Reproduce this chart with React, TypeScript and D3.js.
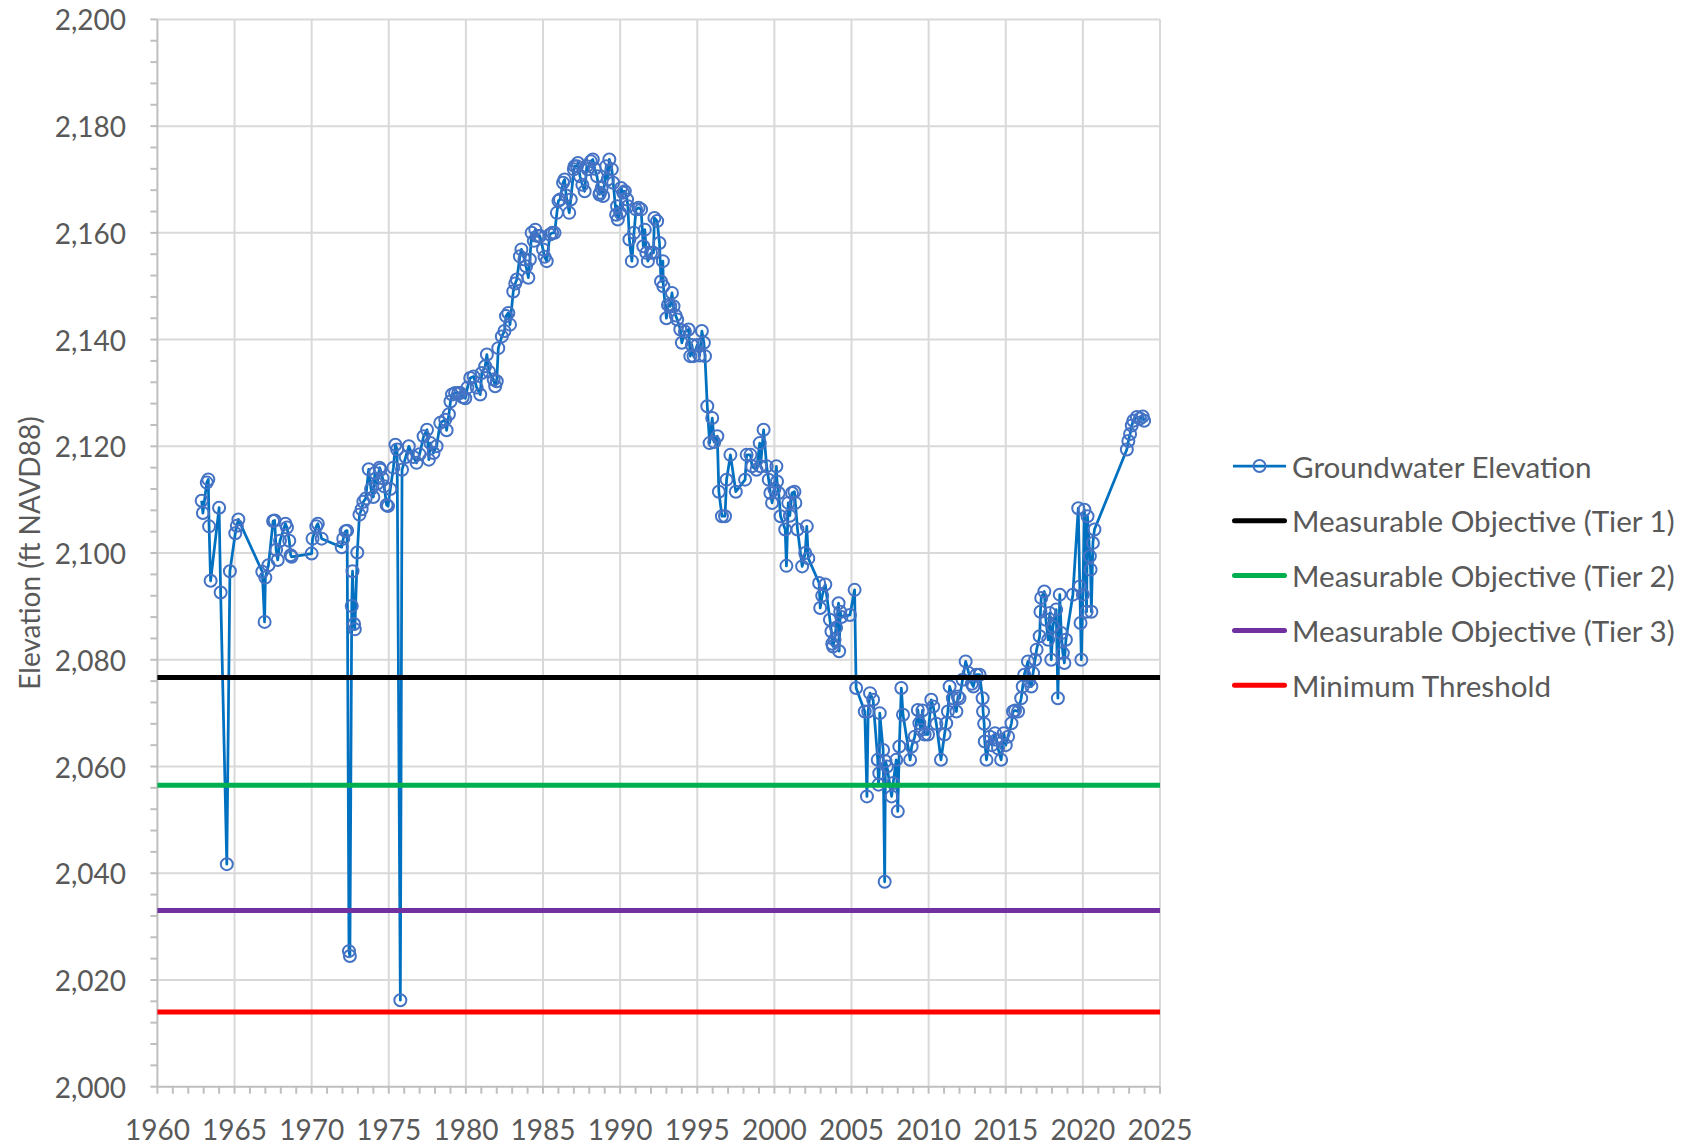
import React from "react";
import * as d3 from "d3";

// ---- Data ----
const years: number[] = [
  1962.87, 1962.95, 1963.2, 1963.3, 1963.35, 1963.45, 1964.0, 1964.1, 1964.5, 1964.7,
  1965.05, 1965.15, 1965.25, 1966.8, 1966.95, 1967.0, 1967.2, 1967.5, 1967.6, 1967.7,
  1967.8, 1967.95, 1968.3, 1968.4, 1968.55, 1968.64, 1968.7, 1970.0, 1970.06, 1970.3,
  1970.4, 1970.65, 1971.95, 1972.05, 1972.2, 1972.3, 1972.42, 1972.48, 1972.6, 1972.65,
  1972.75, 1972.8, 1972.96, 1973.1, 1973.24, 1973.35, 1973.5, 1973.7, 1973.85, 1974.0,
  1974.1, 1974.25, 1974.4, 1974.46, 1974.6, 1974.7, 1974.86, 1974.95, 1975.1, 1975.3,
  1975.43, 1975.54, 1975.75, 1975.86, 1976.1, 1976.3, 1976.6, 1976.8, 1977.0, 1977.26,
  1977.48, 1977.6, 1977.7, 1977.9, 1978.1, 1978.34, 1978.66, 1978.75, 1978.9, 1979.0,
  1979.1, 1979.3, 1979.5, 1979.63, 1979.8, 1979.96, 1980.1, 1980.28, 1980.5, 1980.7,
  1980.93, 1981.03, 1981.25, 1981.36, 1981.5, 1981.8, 1981.9, 1982.0, 1982.1, 1982.33,
  1982.5, 1982.6, 1982.75, 1982.86, 1983.07, 1983.2, 1983.3, 1983.5, 1983.6, 1983.8,
  1983.9, 1984.05, 1984.15, 1984.26, 1984.4, 1984.5, 1984.65, 1984.8, 1985.0, 1985.1,
  1985.24, 1985.45, 1985.6, 1985.75, 1985.9, 1986.0, 1986.1, 1986.3, 1986.4, 1986.5,
  1986.7, 1986.8, 1987.0, 1987.05, 1987.2, 1987.26, 1987.4, 1987.55, 1987.7, 1987.84,
  1987.9, 1988.1, 1988.23, 1988.35, 1988.5, 1988.66, 1988.7, 1988.8, 1988.9, 1989.1,
  1989.2, 1989.3, 1989.46, 1989.55, 1989.74, 1989.8, 1989.85, 1990.0, 1990.06, 1990.2,
  1990.3, 1990.45, 1990.5, 1990.6, 1990.76, 1990.9, 1991.03, 1991.2, 1991.36, 1991.5,
  1991.6, 1991.7, 1991.8, 1992.0, 1992.16, 1992.22, 1992.4, 1992.55, 1992.65, 1992.77,
  1992.8, 1993.0, 1993.1, 1993.25, 1993.36, 1993.46, 1993.6, 1993.7, 1993.9, 1994.0,
  1994.2, 1994.44, 1994.55, 1994.65, 1994.76, 1995.0, 1995.15, 1995.3, 1995.43, 1995.5,
  1995.65, 1995.8, 1995.97, 1996.1, 1996.3, 1996.4, 1996.6, 1996.8, 1996.9, 1997.15,
  1997.5, 1998.1, 1998.2, 1998.45, 1998.55, 1998.84, 1999.05, 1999.1, 1999.3, 1999.5,
  1999.63, 1999.74, 1999.85, 2000.0, 2000.13, 2000.17, 2000.28, 2000.4, 2000.7, 2000.78,
  2000.9, 2001.0, 2001.14, 2001.3, 2001.36, 2001.5, 2001.8, 2002.0, 2002.1, 2002.2,
  2002.9, 2002.97, 2003.1, 2003.3, 2003.6, 2003.7, 2003.75, 2003.8, 2003.9, 2004.0,
  2004.16, 2004.2, 2004.27, 2004.35, 2004.9, 2005.2, 2005.3, 2005.86, 2006.0, 2006.08,
  2006.2, 2006.4, 2006.7, 2006.75, 2006.8, 2006.83, 2007.05, 2007.15, 2007.2, 2007.3,
  2007.6, 2007.7, 2007.9, 2008.0, 2008.1, 2008.23, 2008.34, 2008.8, 2008.9, 2009.1,
  2009.3, 2009.4, 2009.5, 2009.6, 2009.74, 2009.96, 2010.17, 2010.3, 2010.5, 2010.8,
  2011.03, 2011.14, 2011.25, 2011.36, 2011.57, 2011.8, 2011.9, 2012.0, 2012.2, 2012.4,
  2012.6, 2012.8, 2012.9, 2013.1, 2013.3, 2013.5, 2013.53, 2013.6, 2013.64, 2013.75,
  2013.97, 2014.1, 2014.3, 2014.4, 2014.5, 2014.7, 2014.87, 2015.0, 2015.15, 2015.37,
  2015.47, 2015.6, 2015.8, 2016.0, 2016.1, 2016.2, 2016.44, 2016.5, 2016.66, 2016.77,
  2016.9, 2017.0, 2017.2, 2017.25, 2017.3, 2017.5, 2017.6, 2017.75, 2017.85, 2017.95,
  2018.06, 2018.27, 2018.38, 2018.5, 2018.6, 2018.7, 2018.8, 2018.9, 2019.35, 2019.7,
  2019.8, 2019.85, 2019.9, 2020.0, 2020.1, 2020.24, 2020.3, 2020.45, 2020.5, 2020.55,
  2020.65, 2020.75, 2022.85, 2022.95, 2023.06, 2023.17, 2023.27, 2023.5, 2023.7, 2023.88,
  2023.97,
];

const elevations: number[] = [
  2109.8, 2107.5, 2113.2, 2113.8, 2105.0, 2094.8, 2108.5, 2092.6, 2041.7, 2096.6,
  2103.7, 2105.1, 2106.3, 2096.5, 2087.1, 2095.4, 2097.7, 2106.0, 2106.1, 2100.6,
  2098.7, 2102.3, 2105.5, 2104.8, 2102.3, 2099.6, 2099.3, 2099.9, 2102.7, 2105.0,
  2105.5, 2102.7, 2101.1, 2102.7, 2104.1, 2104.2, 2025.4, 2024.5, 2090.1, 2096.6,
  2086.7, 2085.7, 2100.1, 2107.2, 2108.2, 2109.6, 2110.2, 2115.7, 2112.0, 2110.5,
  2115.0, 2113.0, 2116.0, 2115.6, 2114.0, 2112.5, 2109.0, 2108.8, 2112.0, 2116.0,
  2120.3, 2119.4, 2016.2, 2115.6, 2118.0, 2120.0, 2118.0, 2116.9, 2118.5, 2121.9,
  2123.1, 2117.5, 2120.6, 2118.75, 2120.0, 2124.4, 2125.0, 2123.0, 2126.0, 2128.4,
  2129.7, 2130.0, 2130.0, 2130.0, 2129.2, 2129.0, 2131.0, 2132.8, 2133.1, 2131.0,
  2129.7, 2133.75, 2135.0, 2137.2, 2134.0, 2132.5, 2131.25, 2132.2, 2138.4, 2140.6,
  2141.6, 2144.4, 2145.0, 2142.8, 2149.0, 2150.5, 2151.25, 2155.6, 2156.9, 2155.0,
  2153.75, 2151.6, 2155.0, 2160.0, 2158.5, 2160.6, 2159.4, 2159.4, 2156.9, 2155.5,
  2154.7, 2159.7, 2160.0, 2160.0, 2163.75, 2166.0, 2166.25, 2169.4, 2170.0, 2167.0,
  2163.75, 2166.25, 2171.9, 2172.5, 2172.5, 2173.1, 2170.6, 2169.0, 2167.8, 2172.5,
  2171.9, 2173.4, 2173.75, 2172.0, 2170.6, 2167.2, 2167.5, 2168.4, 2166.9, 2172.5,
  2170.0, 2173.75, 2171.9, 2169.4, 2163.4, 2165.0, 2162.5, 2163.75, 2168.4, 2167.5,
  2167.8, 2166.25, 2165.0, 2158.75, 2154.7, 2160.0, 2164.4, 2164.7, 2164.4, 2157.5,
  2160.6, 2156.25, 2154.7, 2156.25, 2156.25, 2162.8, 2162.2, 2158.1, 2150.9, 2154.7,
  2150.0, 2144.0, 2146.5, 2146.25, 2148.75, 2146.25, 2144.5, 2143.75, 2141.9, 2139.4,
  2141.5, 2141.9, 2136.9, 2139.0, 2136.9, 2139.0, 2137.0, 2141.6, 2139.4, 2136.9,
  2127.5, 2120.6, 2125.3, 2120.8, 2121.9, 2111.5, 2106.9, 2106.9, 2113.75, 2118.4,
  2111.5, 2113.75, 2118.4, 2118.4, 2116.25, 2115.6, 2120.6, 2116.25, 2123.1, 2116.25,
  2113.75, 2111.25, 2109.4, 2112.0, 2116.25, 2113.4, 2111.25, 2106.9, 2104.4, 2097.6,
  2109.4, 2107.0, 2111.25, 2111.5, 2109.4, 2104.4, 2097.5, 2100.0, 2105.0, 2099.0,
  2094.4, 2089.7, 2092.0, 2094.1, 2087.5, 2085.3, 2083.0, 2082.5, 2083.75, 2086.0,
  2090.6, 2081.6, 2089.0, 2088.0, 2088.4, 2093.1, 2074.7, 2070.3, 2054.4, 2070.3,
  2073.75, 2072.5, 2061.25, 2056.6, 2058.75, 2070.0, 2063.1, 2038.4, 2061.0, 2060.0,
  2054.4, 2056.9, 2061.25, 2051.6, 2063.75, 2074.7, 2069.7, 2061.25, 2063.75, 2065.6,
  2070.6, 2068.1, 2066.9, 2070.5, 2066.0, 2066.0, 2072.5, 2071.25, 2068.0, 2061.25,
  2066.0, 2068.1, 2070.3, 2075.0, 2072.8, 2070.3, 2073.1, 2072.8, 2076.25, 2079.7,
  2077.5, 2075.5, 2075.0, 2077.2, 2077.2, 2072.8, 2070.3, 2068.0, 2064.7, 2061.25,
  2065.6, 2064.0, 2066.25, 2065.0, 2063.4, 2061.25, 2066.25, 2064.0, 2065.6, 2068.1,
  2070.3, 2070.5, 2070.3, 2072.8, 2075.0, 2077.2, 2079.7, 2076.0, 2075.0, 2077.5,
  2080.0, 2081.9, 2084.4, 2089.0, 2091.6, 2092.8, 2087.5, 2083.75, 2088.75, 2080.0,
  2086.25, 2089.4, 2072.8, 2092.2, 2085.0, 2081.25, 2079.4, 2083.75, 2092.2, 2108.4,
  2093.75, 2086.9, 2080.0, 2092.2, 2108.1, 2089.0, 2106.9, 2099.4, 2096.9, 2089.0,
  2101.9, 2104.4, 2119.4, 2121.0, 2122.3, 2123.9, 2124.8, 2125.5, 2125.2, 2125.6,
  2124.8,
];

const thresholdNames: string[] = [
  "Measurable Objective (Tier 1)",
  "Measurable Objective (Tier 2)",
  "Measurable Objective (Tier 3)",
  "Minimum Threshold",
];
const thresholdValues: number[] = [2076.7, 2056.5, 2033.0, 2014.0];
const thresholdColors: string[] = ["#000000", "#00B050", "#7030A0", "#FF0000"];

const seriesName = "Groundwater Elevation";
const xTicks: number[] = [1960, 1965, 1970, 1975, 1980, 1985, 1990, 1995, 2000, 2005, 2010, 2015, 2020, 2025];
const yTicks: number[] = [2000, 2020, 2040, 2060, 2080, 2100, 2120, 2140, 2160, 2180, 2200];
const yAxisTitle = "Elevation (ft NAVD88)";

// ---- Layout ----
const W = 1692;
const H = 1146;
const PL = 157.4;
const PR = 1160;
const PT = 19.4;
const PB = 1086.7;
const FONT = "Lato, 'Open Sans', sans-serif";
const TEXT = "#595959";
const GRID = "#d9d9d9";
const AXIS = "#bfbfbf";

export default function App() {
  const x = d3.scaleLinear().domain([1960, 2025]).range([PL, PR]);
  const y = d3.scaleLinear().domain([2000, 2200]).range([PB, PT]);
  const fmt = d3.format(",");

  const pts = years.map((yr, i) => [yr, elevations[i]] as [number, number]);
  const line = d3
    .line<[number, number]>()
    .x((d) => x(d[0]))
    .y((d) => y(d[1]));

  const minorY = d3.range(2000, 2200.1, 4);
  const minorX = d3.range(1960, 2025.1, 1);

  const legX0 = 1232;
  const legX1 = 1287;
  const legY0 = 466;
  const legStep = 54.8;
  const legFont = 29.6;

  return (
    <svg
      width={W}
      height={H}
      style={{ position: "absolute", left: 0, top: 0, background: "#fff" }}
      fontFamily={FONT}
    >
      <rect x={0} y={0} width={W} height={H} fill="#fff" />
      {/* gridlines */}
      {yTicks.slice(1).map((v) => (
        <line key={"gy" + v} x1={PL} x2={PR} y1={y(v)} y2={y(v)} stroke={GRID} strokeWidth={2} />
      ))}
      {xTicks.slice(1).map((v) => (
        <line key={"gx" + v} x1={x(v)} x2={x(v)} y1={PT} y2={PB} stroke={GRID} strokeWidth={2} />
      ))}
      {/* axes */}
      <line x1={PL} x2={PL} y1={PT} y2={PB} stroke={AXIS} strokeWidth={2} />
      <line x1={PL} x2={PR} y1={PB} y2={PB} stroke={AXIS} strokeWidth={2} />
      {minorY.map((v) => (
        <line key={"my" + v} x1={PL - 7} x2={PL} y1={y(v)} y2={y(v)} stroke={AXIS} strokeWidth={2} />
      ))}
      {minorX.map((v) => (
        <line key={"mx" + v} x1={x(v)} x2={x(v)} y1={PB} y2={PB + 7} stroke={AXIS} strokeWidth={2} />
      ))}
      {/* tick labels */}
      {yTicks.map((v) => (
        <text
          key={"ty" + v}
          x={126}
          y={y(v)}
          textAnchor="end"
          dominantBaseline="central"
          fontSize={28}
          fill={TEXT}
        >
          {fmt(v)}
        </text>
      ))}
      {xTicks.map((v) => (
        <text
          key={"tx" + v}
          x={x(v)}
          y={1129}
          textAnchor="middle"
          dominantBaseline="central"
          fontSize={28}
          fill={TEXT}
        >
          {v}
        </text>
      ))}
      <text
        transform={`translate(29,${(PT + PB) / 2}) rotate(-90)`}
        textAnchor="middle"
        dominantBaseline="central"
        fontSize={28}
        fill={TEXT}
      >
        {yAxisTitle}
      </text>
      {/* series */}
      <path d={line(pts) || ""} fill="none" stroke="#0070C0" strokeWidth={2.75} strokeLinejoin="round" />
      {pts.map((d, i) => (
        <circle key={"p" + i} cx={x(d[0])} cy={y(d[1])} r={6} fill="none" stroke="#4472C4" strokeWidth={2} />
      ))}
      {/* threshold lines */}
      {thresholdValues.map((v, i) => (
        <line key={"th" + i} x1={PL} x2={PR} y1={y(v)} y2={y(v)} stroke={thresholdColors[i]} strokeWidth={5} />
      ))}
      {/* legend */}
      <g>
        <line x1={legX0 + 1} x2={legX1 - 1} y1={legY0} y2={legY0} stroke="#0070C0" strokeWidth={2.75} />
        <circle cx={(legX0 + legX1) / 2} cy={legY0} r={6} fill="none" stroke="#4472C4" strokeWidth={2} />
        <text x={1292} y={legY0} dominantBaseline="central" fontSize={legFont} fill={TEXT}>
          {seriesName}
        </text>
        {thresholdNames.map((n, i) => {
          const ly = legY0 + legStep * (i + 1);
          return (
            <g key={"lg" + i}>
              <line
                x1={legX0 + 2.5}
                x2={legX1 - 2.5}
                y1={ly}
                y2={ly}
                stroke={thresholdColors[i]}
                strokeWidth={5}
                strokeLinecap="round"
              />
              <text x={1292} y={ly} dominantBaseline="central" fontSize={legFont} fill={TEXT}>
                {n}
              </text>
            </g>
          );
        })}
      </g>
    </svg>
  );
}
